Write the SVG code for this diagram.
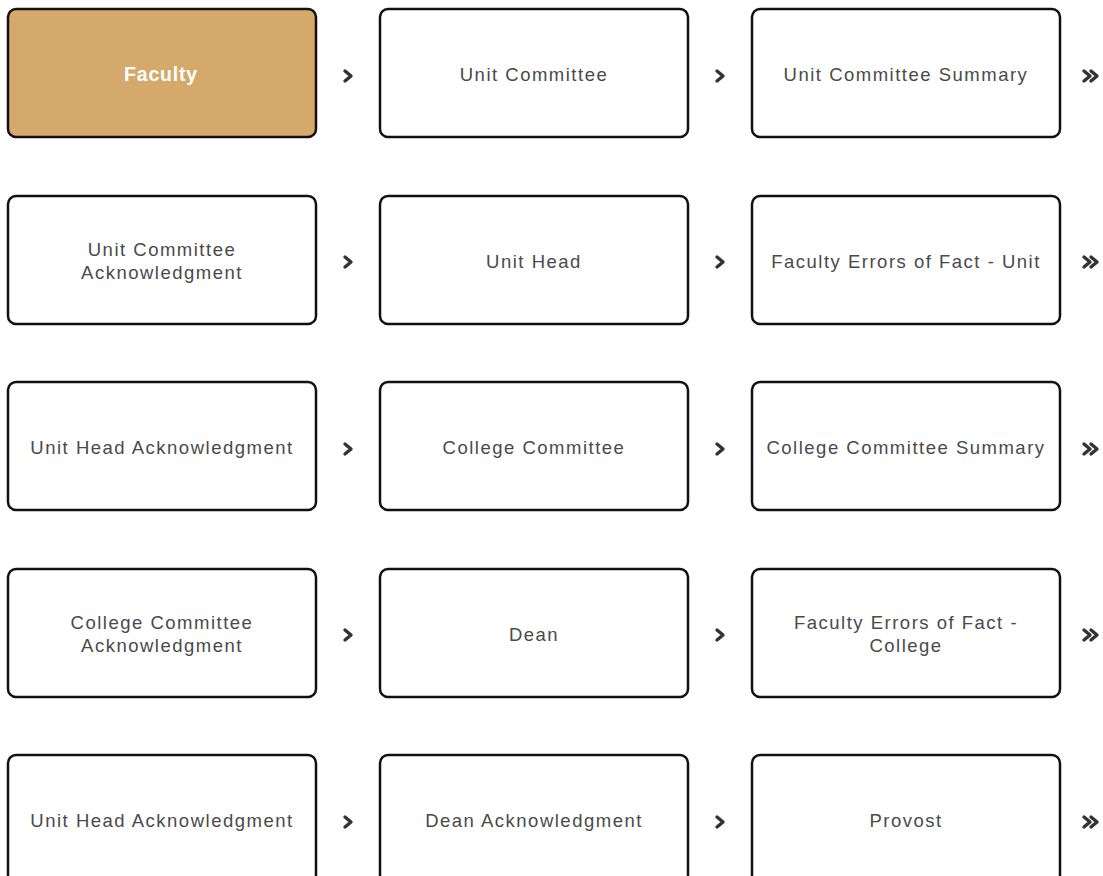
<svg xmlns="http://www.w3.org/2000/svg" width="1103" height="876" viewBox="0 0 1103 876">
  <defs>
    <style>
      .box { fill: #ffffff; stroke: #111111; stroke-width: 2.5; }
      .box.active { fill: #d5a96b; }
      .lbl { font-family: "Liberation Sans", Arial, sans-serif; font-size: 18.5px; fill: #4a4a4a; text-anchor: middle; letter-spacing: 1.5px; }
      .lbl.active { fill: #ffffff; font-weight: bold; font-size: 19.5px; letter-spacing: 0.8px; }
      .chev { fill: none; stroke: #333333; stroke-width: 3.4; stroke-linecap: round; stroke-linejoin: round; }
    </style>
    <path id="chev1" class="chev" d="M-3,-5 L3,0 L-3,5"/>
    <g id="chev2">
      <path class="chev" d="M-6,-5 L0,0 L-6,5"/>
      <path class="chev" d="M1,-5 L7,0 L1,5"/>
    </g>
  </defs>

  <!-- Row 1 -->
  <g id="node-faculty">
    <rect class="box active" x="8" y="9" width="308" height="128" rx="8"/>
    <text class="lbl active" x="161" y="81">Faculty</text>
  </g>
  <g id="node-unit-committee">
    <rect class="box" x="380" y="9" width="308" height="128" rx="8"/>
    <text class="lbl" x="534" y="81">Unit Committee</text>
  </g>
  <g id="node-unit-committee-summary">
    <rect class="box" x="752" y="9" width="308" height="128" rx="8"/>
    <text class="lbl" x="906" y="81">Unit Committee Summary</text>
  </g>

  <!-- Row 2 -->
  <g id="node-unit-committee-ack">
    <rect class="box" x="8" y="196" width="308" height="128" rx="8"/>
    <text class="lbl" x="162" y="256">Unit Committee</text>
    <text class="lbl" x="162" y="279">Acknowledgment</text>
  </g>
  <g id="node-unit-head">
    <rect class="box" x="380" y="196" width="308" height="128" rx="8"/>
    <text class="lbl" x="534" y="268">Unit Head</text>
  </g>
  <g id="node-faculty-errors-unit">
    <rect class="box" x="752" y="196" width="308" height="128" rx="8"/>
    <text class="lbl" x="906" y="268">Faculty Errors of Fact - Unit</text>
  </g>

  <!-- Row 3 -->
  <g id="node-unit-head-ack-1">
    <rect class="box" x="8" y="382" width="308" height="128" rx="8"/>
    <text class="lbl" x="162" y="454">Unit Head Acknowledgment</text>
  </g>
  <g id="node-college-committee">
    <rect class="box" x="380" y="382" width="308" height="128" rx="8"/>
    <text class="lbl" x="534" y="454">College Committee</text>
  </g>
  <g id="node-college-committee-summary">
    <rect class="box" x="752" y="382" width="308" height="128" rx="8"/>
    <text class="lbl" x="906" y="454">College Committee Summary</text>
  </g>

  <!-- Row 4 -->
  <g id="node-college-committee-ack">
    <rect class="box" x="8" y="569" width="308" height="128" rx="8"/>
    <text class="lbl" x="162" y="629">College Committee</text>
    <text class="lbl" x="162" y="652">Acknowledgment</text>
  </g>
  <g id="node-dean">
    <rect class="box" x="380" y="569" width="308" height="128" rx="8"/>
    <text class="lbl" x="534" y="641">Dean</text>
  </g>
  <g id="node-faculty-errors-college">
    <rect class="box" x="752" y="569" width="308" height="128" rx="8"/>
    <text class="lbl" x="906" y="629">Faculty Errors of Fact -</text>
    <text class="lbl" x="906" y="652">College</text>
  </g>

  <!-- Row 5 -->
  <g id="node-unit-head-ack-2">
    <rect class="box" x="8" y="755" width="308" height="128" rx="8"/>
    <text class="lbl" x="162" y="827">Unit Head Acknowledgment</text>
  </g>
  <g id="node-dean-ack">
    <rect class="box" x="380" y="755" width="308" height="128" rx="8"/>
    <text class="lbl" x="534" y="827">Dean Acknowledgment</text>
  </g>
  <g id="node-provost">
    <rect class="box" x="752" y="755" width="308" height="128" rx="8"/>
    <text class="lbl" x="906" y="827">Provost</text>
  </g>

  <!-- Step chevrons between boxes -->
  <g id="connectors">
    <use href="#chev1" x="348" y="76"/>
    <use href="#chev1" x="720" y="76"/>
    <use href="#chev2" x="1090" y="76"/>
    <use href="#chev1" x="348" y="262"/>
    <use href="#chev1" x="720" y="262"/>
    <use href="#chev2" x="1090" y="262"/>
    <use href="#chev1" x="348" y="449"/>
    <use href="#chev1" x="720" y="449"/>
    <use href="#chev2" x="1090" y="449"/>
    <use href="#chev1" x="348" y="635"/>
    <use href="#chev1" x="720" y="635"/>
    <use href="#chev2" x="1090" y="635"/>
    <use href="#chev1" x="348" y="822"/>
    <use href="#chev1" x="720" y="822"/>
    <use href="#chev2" x="1090" y="822"/>
  </g>
</svg>
